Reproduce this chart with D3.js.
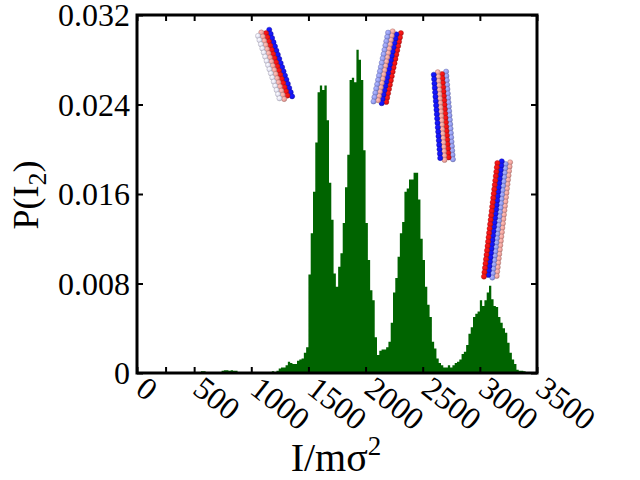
<!DOCTYPE html>
<html>
<head>
<meta charset="utf-8">
<script src="https://cdn.jsdelivr.net/npm/d3@7"></script>
<style>
  body { margin: 0; background: #fff; }
  svg { display: block; }
  text { font-family: "Liberation Serif", "Times New Roman", serif; fill: #000; }
</style>
</head>
<body>
<div id="chart"></div>
<script>
// histogram: bins of 20 (I/m sigma^2) starting at 540, heights in units of 1e-3
var binWidth = 20;
var firstBin = 540;
var probE3 = [
  0, 0.15, 0.15, 0.05, 0, 0.1, 0.05, 0.1, 0.1, 0.05,          // 540-720
  0.2, 0.25, 0.25, 0.2, 0.25, 0.2, 0.2, 0, 0, 0,              // 740-920
  0, 0, 0, 0, 0, 0, 0, 0, 0, 0,                               // 940-1120
  0, 0.1, 0.15, 0.1, 0.2, 0.4, 0.5, 0.5, 0.7, 1.0,            // 1140-1320
  0.9, 0.8, 0.8, 1.1, 1.2, 1.3, 1.8, 2.3, 8.8, 12.5,          // 1340-1520
  16.2, 20.6, 25.1, 25.7, 25.3, 25.7, 22.6, 17.0, 13.7, 8.9,  // 1540-1720
  7.7, 9.5, 10.7, 13.4, 16.6, 19.5, 26.2, 26.4, 26.0, 28.9,   // 1740-1920
  28.0, 26.2, 19.9, 13.4, 10.1, 7.4, 6.5, 3.2, 1.6, 2.0,      // 1940-2120
  2.1, 2.1, 2.3, 2.8, 4.5, 7.2, 8.5, 10.4, 12.5, 13.5,        // 2140-2320
  16.2, 16.5, 17.3, 17.3, 17.9, 17.9, 15.5, 12.0, 10.1, 7.7,  // 2340-2520
  6.1, 5.0, 2.8, 2.2, 1.3, 0.9, 0.7, 0.5, 0.5, 0.7,           // 2540-2720
  0.5, 0.7, 0.9, 1.0, 1.2, 1.7, 1.9, 2.5, 3.5, 4.1,           // 2740-2920
  5.0, 5.3, 5.5, 6.5, 6.0, 6.5, 7.2, 7.8, 6.6, 6.0,           // 2940-3120
  5.9, 5.0, 4.5, 4.0, 3.6, 2.7, 1.8, 1.2, 0.8, 0.3,           // 3140-3320
  0.2, 0.2, 0.15, 0.1, 0.1, 0.05                              // 3340-3440
];

var xTicks = [0, 250, 500, 1000, 1500, 2000, 2500, 3000, 3500];
var yTicks = [0, 8, 16, 24, 32];
var yTickLabels = ["0", "0.008", "0.016", "0.024", "0.032"];

// molecule snapshots: end points in data units, strand colours
var molTopI = [1105, 2255, 2650, 3210];
var molTopP = [30.5, 30.5, 26.9, 18.9];
var molBotI = [1310, 2120, 2710, 3090];
var molBotP = [24.4, 24.0, 19.0, 8.5];
var molStrands = [
  ["blue", "red", "salmon", "white"],
  ["red", "blue", "salmon", "lightblue"],
  ["lightblue", "red", "salmon", "blue"],
  ["salmon", "lightblue", "blue", "red"]
];
var beadColors = { red: "#ee1414", blue: "#1414f5", salmon: "#f2a29c", white: "#e2e0f2", lightblue: "#939bf0" };

var W = 640, H = 480;
var margin = { left: 137, top: 15, right: 103, bottom: 107 };
var iw = W - margin.left - margin.right;
var ih = H - margin.top - margin.bottom;

var svg = d3.select("#chart").append("svg")
    .attr("width", W)
    .attr("height", H);

var defs = svg.append("defs");
defs.append("clipPath").attr("id", "plotclip")
  .append("rect").attr("width", iw).attr("height", ih);

Object.keys(beadColors).forEach(function (k) {
    var c = d3.color(beadColors[k]);
    var gr = defs.append("radialGradient").attr("id", "bead-" + k)
        .attr("cx", "38%").attr("cy", "35%").attr("r", "65%");
    gr.append("stop").attr("offset", "0%").attr("stop-color", c.brighter(0.5));
    gr.append("stop").attr("offset", "65%").attr("stop-color", c);
    gr.append("stop").attr("offset", "100%").attr("stop-color", c.darker(0.6));
});

var g = svg.append("g").attr("transform", "translate(" + margin.left + "," + margin.top + ")");

var x = d3.scaleLinear().domain([0, 3500]).range([0, iw]);
var y = d3.scaleLinear().domain([0, 32]).range([ih, 0]);

// histogram as one stepped area (no seams between bins)
var n = probE3.length;
var area = d3.area()
    .curve(d3.curveStepAfter)
    .x(function (i) { return x(firstBin + i * binWidth); })
    .y0(y(0))
    .y1(function (i) { return y(probE3[Math.min(i, n - 1)]); });

g.append("path")
    .datum(d3.range(n + 1))
    .attr("clip-path", "url(#plotclip)")
    .attr("d", area)
    .attr("fill", "#006400");

// molecules
var mol = g.append("g");
molTopI.forEach(function (ti, m) {
    var x1 = x(ti), y1 = y(molTopP[m]);
    var x2 = x(molBotI[m]), y2 = y(molBotP[m]);
    var len = Math.hypot(x2 - x1, y2 - y1);
    var ux = (x2 - x1) / len, uy = (y2 - y1) / len;
    var nx = -uy, ny = ux;
    var step = 4.4, gap = 4.2;
    var nb = Math.floor(len / step);
    var beads = [];
    molStrands[m].forEach(function (col, s) {
        for (var j = 0; j <= nb; j++) {
            var t = j * step + (s % 2) * step / 2;
            if (t > len) continue;
            var off = (s - 1.5) * gap;
            beads.push({
                cx: x1 + ux * t + nx * off,
                cy: y1 + uy * t + ny * off,
                col: col
            });
        }
    });
    mol.append("g").selectAll("circle")
      .data(beads)
      .enter()
      .append("circle")
        .attr("cx", function (d) { return d.cx; })
        .attr("cy", function (d) { return d.cy; })
        .attr("r", 2.6)
        .attr("fill", function (d) { return "url(#bead-" + d.col + ")"; })
        .attr("stroke", function (d) { return d3.color(beadColors[d.col]).darker(1); })
        .attr("stroke-width", 0.4);
});

// axes (inward ticks on all four sides)
var fmtX = function (d) { return d % 500 === 0 ? d : ""; };

var xAxis = g.append("g")
    .attr("transform", "translate(0," + ih + ")")
    .call(d3.axisBottom(x).tickValues(xTicks).tickSize(-6).tickFormat(fmtX));
xAxis.selectAll("text")
    .attr("x", 10)
    .attr("y", 2)
    .attr("dy", "0.68em")
    .attr("text-anchor", "start")
    .attr("transform", "rotate(38,10,2)")
    .style("font-size", "32px");

g.append("g")
    .call(d3.axisTop(x).tickValues(xTicks).tickSize(-6).tickFormat(""));

g.append("g")
    .call(d3.axisLeft(y).tickValues(yTicks).tickSize(-6).tickPadding(7)
        .tickFormat(function (d, i) { return yTickLabels[i]; }))
  .selectAll("text")
    .attr("dy", "0.34em")
    .style("font-size", "32px");

g.append("g")
    .attr("transform", "translate(" + iw + ",0)")
    .call(d3.axisRight(y).tickValues(yTicks).tickSize(-6).tickFormat(""));

g.selectAll(".domain").remove();
g.selectAll(".tick line").attr("stroke", "#000").attr("stroke-width", 2);

g.append("rect")
    .attr("width", iw)
    .attr("height", ih)
    .attr("fill", "none")
    .attr("stroke", "#000")
    .attr("stroke-width", 3);

// axis titles
var xl = svg.append("text")
    .attr("x", 336)
    .attr("y", 471)
    .attr("text-anchor", "middle")
    .style("font-size", "40px");
xl.append("tspan").text("I/mσ");
xl.append("tspan").attr("dy", -16).style("font-size", "27px").text("2");

var yl = svg.append("text")
    .attr("transform", "translate(38,195) rotate(-90)")
    .attr("text-anchor", "middle")
    .style("font-size", "36px");
yl.append("tspan").text("P(I");
yl.append("tspan").attr("dy", 8).style("font-size", "26px").text("2");
yl.append("tspan").attr("dy", -8).text(")");
</script>
</body>
</html>
